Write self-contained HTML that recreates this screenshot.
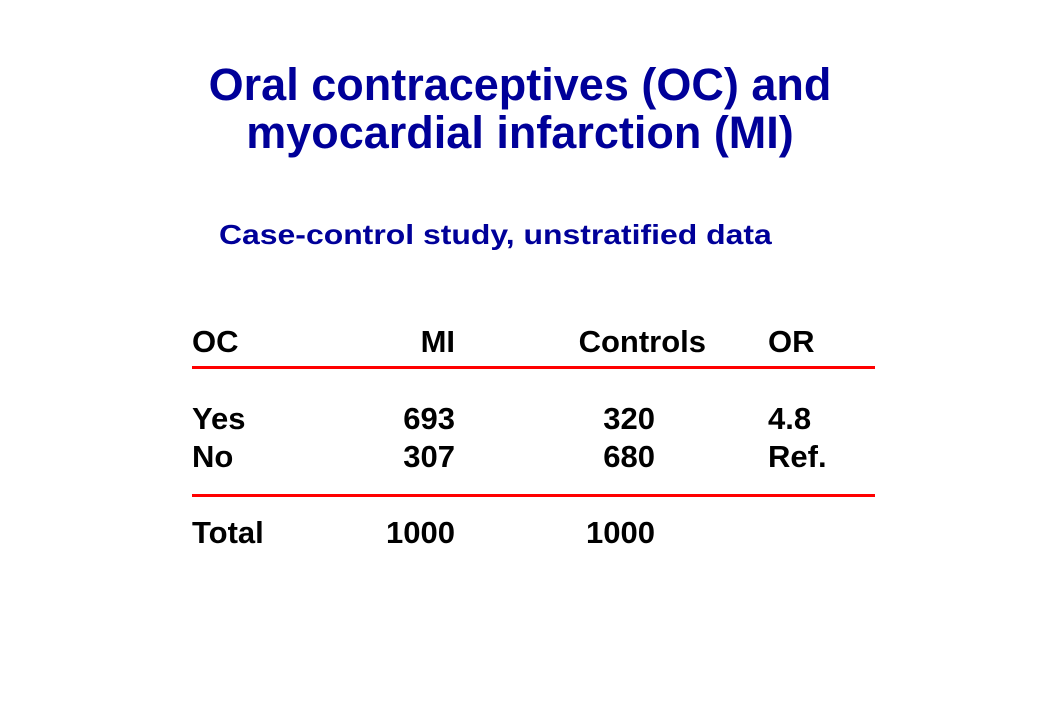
<!DOCTYPE html>
<html><head><meta charset="utf-8"><style>
body{margin:0;width:1040px;height:720px;background:#fff;position:relative;overflow:hidden;font-family:"Liberation Sans",Arial,sans-serif;font-weight:bold}
.t{position:absolute;line-height:1;white-space:nowrap}
.title{color:#000099;font-size:45px;left:0;width:1040px;text-align:center}
.sub{color:#000099;font-size:28px;left:219px;transform:scaleX(1.14);transform-origin:0 0}
.c{font-size:31px;color:#000}
.r{text-align:right}
.line{position:absolute;left:192px;width:683px;height:3px;background:#ff0000}
</style></head><body>
<div class="t title" style="top:62px">Oral contraceptives (OC) and</div>
<div class="t title" style="top:110px">myocardial infarction (MI)</div>
<div class="t sub" style="top:221px">Case-control study, unstratified data</div>
<div>
<div class="t c" style="top:326px;left:192px">OC</div>
<div class="t c r" style="top:326px;left:355px;width:100px">MI</div>
<div class="t c r" style="top:326px;left:556px;width:150px">Controls</div>
<div class="t c" style="top:326px;left:768px">OR</div>
<div class="line" style="top:366px"></div>
<div class="t c" style="top:403px;left:192px">Yes</div>
<div class="t c r" style="top:403px;left:355px;width:100px">693</div>
<div class="t c r" style="top:403px;left:555px;width:100px">320</div>
<div class="t c" style="top:403px;left:768px">4.8</div>
<div class="t c" style="top:441px;left:192px">No</div>
<div class="t c r" style="top:441px;left:355px;width:100px">307</div>
<div class="t c r" style="top:441px;left:555px;width:100px">680</div>
<div class="t c" style="top:441px;left:768px">Ref.</div>
<div class="line" style="top:494px"></div>
<div class="t c" style="top:517px;left:192px">Total</div>
<div class="t c r" style="top:517px;left:355px;width:100px">1000</div>
<div class="t c r" style="top:517px;left:555px;width:100px">1000</div>
</div>
</body></html>
